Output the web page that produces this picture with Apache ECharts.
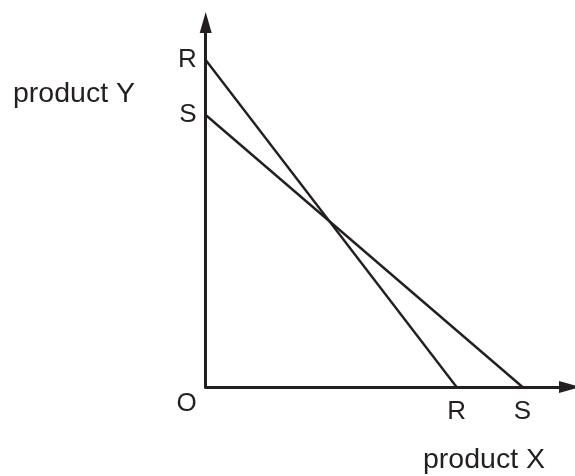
<!DOCTYPE html>
<html>
<head>
<meta charset="utf-8">
<script src="https://cdn.jsdelivr.net/npm/echarts@6/dist/echarts.min.js"></script>
<style>
  html, body { margin: 0; padding: 0; background: #fff; }
  #chart { width: 575px; height: 476px; }
</style>
</head>
<body>
<div id="chart"></div>
<script>
// budget lines, in the units of the axes
var lineR = [[0, 327], [251, 0]];
var lineS = [[0, 272], [317, 0]];

// tick labels on each axis
var yTicks = [272, 327];
var yTickNames = ["S", "R"];
var xTicks = [251, 317];
var xTickNames = ["R", "S"];

var ink = "#231f20";
var font = "Liberation Sans, Arial, sans-serif";

var myChart = echarts.init(document.getElementById("chart"));

myChart.setOption({
  animation: false,
  title: [
    { text: "product Y", left: 13, top: 80, padding: 0,
      textStyle: { color: ink, fontSize: 28.5, fontWeight: "normal", fontFamily: font } },
    { text: "product X", left: 423, top: 446, padding: 0,
      textStyle: { color: ink, fontSize: 28.5, fontWeight: "normal", fontFamily: font } }
  ],
  grid: { left: 205.7, right: 5.5, top: 22.5, bottom: 89 },
  xAxis: {
    type: "value",
    min: 0,
    max: 364,
    splitLine: { show: false },
    axisTick: { show: false },
    axisLine: {
      lineStyle: { color: ink, width: 3 },
      symbol: ["none", "triangle"],
      symbolSize: [12, 21]
    },
    axisLabel: {
      customValues: xTicks,
      margin: 12,
      color: ink,
      fontSize: 26,
      fontFamily: font,
      formatter: function (v) {
        return xTickNames[xTicks.indexOf(v)] || "";
      }
    }
  },
  yAxis: {
    type: "value",
    min: 0,
    max: 364.5,
    splitLine: { show: false },
    axisTick: { show: false },
    axisLine: {
      lineStyle: { color: ink, width: 3 },
      symbol: ["none", "triangle"],
      symbolSize: [12, 21]
    },
    axisLabel: {
      customValues: [0].concat(yTicks),
      margin: 9,
      color: ink,
      fontSize: 26,
      fontFamily: font,
      formatter: function (v) {
        if (v === 0) return "{o|O}";
        return yTickNames[yTicks.indexOf(v)] || "";
      },
      rich: {
        o: { color: ink, fontSize: 26, fontFamily: font, padding: [34, 0, 0, 0], width: 14 }
      }
    }
  },
  series: [
    {
      type: "line",
      data: lineR,
      symbol: "none",
      lineStyle: { color: ink, width: 2.4 }
    },
    {
      type: "line",
      data: lineS,
      symbol: "none",
      lineStyle: { color: ink, width: 2.4 }
    }
  ]
});
</script>
</body>
</html>
